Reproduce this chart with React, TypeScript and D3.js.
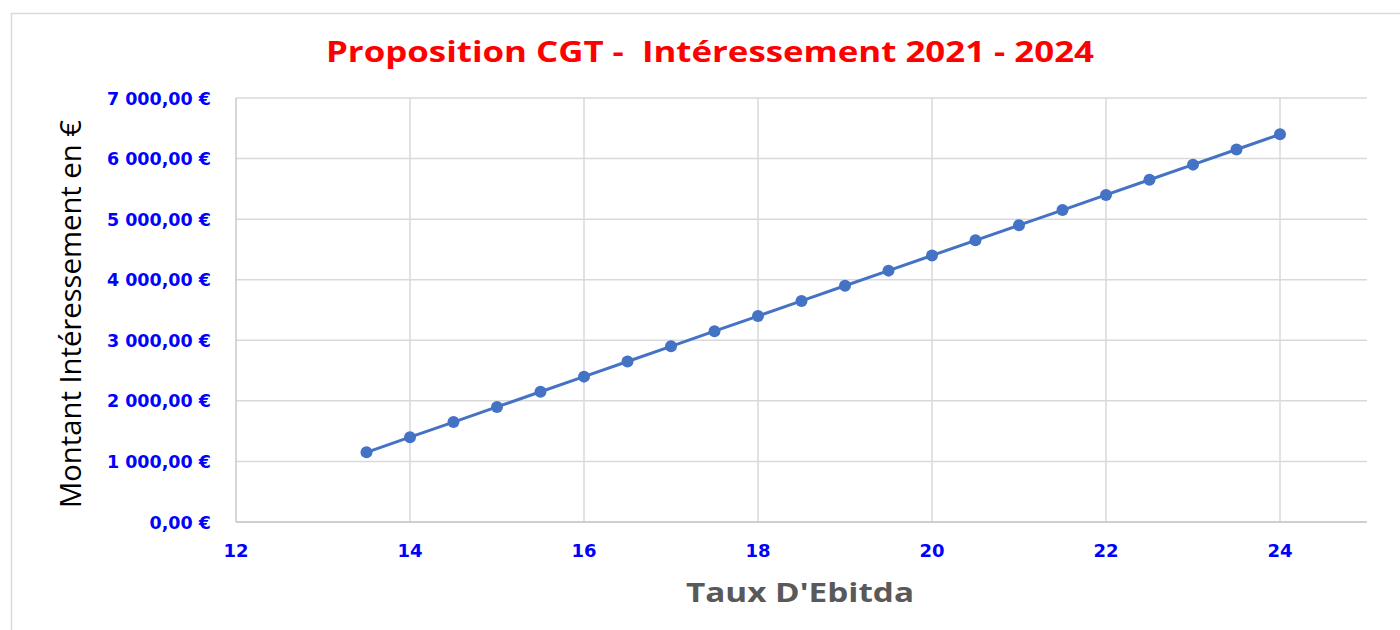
import React, { useEffect, useRef } from 'react';
import * as d3 from 'd3';

const ebitda = [13.5, 14, 14.5, 15, 15.5, 16, 16.5, 17, 17.5, 18, 18.5, 19, 19.5, 20, 20.5, 21, 21.5, 22, 22.5, 23, 23.5, 24];
const montants = [1150, 1400, 1650, 1900, 2150, 2400, 2650, 2900, 3150, 3400, 3650, 3900, 4150, 4400, 4650, 4900, 5150, 5400, 5650, 5900, 6150, 6400];
const xTicks = [12, 14, 16, 18, 20, 22, 24];
const yTicks = [0, 1000, 2000, 3000, 4000, 5000, 6000, 7000];

const title = 'Proposition CGT -  Intéressement 2021 - 2024';
const xTitle = "Taux D'Ebitda";
const yTitle = 'Montant Intéressement en €';

const W = 1400;
const H = 630;

// "7 000,00 €"
const fmtEuro = (v: number) => {
  const s = d3.format(',.2f')(v).replace(/,/g, ' ').replace('.', ',');
  return s + ' €';
};

const App = () => {
  const ref = useRef<SVGSVGElement>(null);

  useEffect(() => {
    const svg = d3.select(ref.current);
    svg.selectAll('*').remove();

    const pad = { left: 236, right: 1367, top: 98, bottom: 522 };
    const x = d3.scaleLinear().domain([12, 25]).range([pad.left, pad.right]);
    const y = d3.scaleLinear().domain([0, 7000]).range([pad.bottom, pad.top]);

    // outer frame
    svg.append('rect')
      .attr('x', 11.5).attr('y', 13.5)
      .attr('width', 1400).attr('height', 640)
      .attr('fill', 'white')
      .attr('stroke', '#d9d9d9')
      .attr('stroke-width', 1.5);

    const grid = svg.append('g');
    grid.selectAll('.hg')
      .data(yTicks.filter(d => d > 0))
      .join('line')
      .attr('x1', pad.left).attr('x2', pad.right)
      .attr('y1', d => y(d)).attr('y2', d => y(d))
      .attr('stroke', '#d9d9d9').attr('stroke-width', 1.5);
    grid.selectAll('.vg')
      .data(xTicks.filter(d => d > 12))
      .join('line')
      .attr('x1', d => x(d)).attr('x2', d => x(d))
      .attr('y1', pad.top).attr('y2', pad.bottom)
      .attr('stroke', '#d9d9d9').attr('stroke-width', 1.5);

    // axes lines
    svg.append('line')
      .attr('x1', pad.left).attr('x2', pad.left)
      .attr('y1', pad.top).attr('y2', pad.bottom)
      .attr('stroke', '#c8c8c8').attr('stroke-width', 1.5);
    svg.append('line')
      .attr('x1', pad.left).attr('x2', pad.right)
      .attr('y1', pad.bottom).attr('y2', pad.bottom)
      .attr('stroke', '#bfbfbf').attr('stroke-width', 1.5);

    // y tick labels
    svg.append('g')
      .selectAll('text')
      .data(yTicks)
      .join('text')
      .attr('x', 211)
      .attr('y', d => y(d) + 6.5)
      .attr('text-anchor', 'end')
      .attr('font-family', 'DejaVu Sans')
      .attr('font-weight', 'bold')
      .attr('font-size', 17.5)
      .attr('fill', '#0000ff')
      .text(d => fmtEuro(d));

    // x tick labels
    svg.append('g')
      .selectAll('text')
      .data(xTicks)
      .join('text')
      .attr('x', d => x(d))
      .attr('y', 557)
      .attr('text-anchor', 'middle')
      .attr('font-family', 'DejaVu Sans')
      .attr('font-weight', 'bold')
      .attr('font-size', 18)
      .attr('fill', '#0000ff')
      .text(d => String(d));

    const pts = ebitda.map((e, i) => [e, montants[i]] as [number, number]);
    const line = d3.line<[number, number]>().x(d => x(d[0])).y(d => y(d[1]));
    svg.append('path')
      .datum(pts)
      .attr('d', line)
      .attr('fill', 'none')
      .attr('stroke', '#4472c4')
      .attr('stroke-width', 3);
    svg.append('g')
      .selectAll('circle')
      .data(pts)
      .join('circle')
      .attr('cx', d => x(d[0]))
      .attr('cy', d => y(d[1]))
      .attr('r', 6)
      .attr('fill', '#4472c4');

    // titles
    svg.append('text')
      .attr('x', 710).attr('y', 62)
      .attr('text-anchor', 'middle')
      .attr('font-family', 'Open Sans')
      .attr('font-weight', 'bold')
      .attr('font-size', 28)
      .attr('fill', '#ff0000')
      .attr('textLength', 768)
      .attr('lengthAdjust', 'spacingAndGlyphs')
      .style('white-space', 'pre')
      .text(title);

    svg.append('text')
      .attr('x', 800).attr('y', 602)
      .attr('text-anchor', 'middle')
      .attr('font-family', 'Open Sans')
      .attr('font-weight', 'bold')
      .attr('font-size', 27)
      .attr('fill', '#595959')
      .attr('textLength', 228)
      .attr('lengthAdjust', 'spacingAndGlyphs')
      .text(xTitle);

    svg.append('text')
      .attr('transform', `translate(81,314) rotate(-90)`)
      .attr('text-anchor', 'middle')
      .attr('font-family', 'Open Sans')
      .attr('font-size', 29)
      .attr('fill', '#000000')
      .attr('textLength', 388)
      .attr('lengthAdjust', 'spacingAndGlyphs')
      .text(yTitle);
  }, []);

  return (
    <div style={{ position: 'fixed', left: 0, top: 0, width: W, height: H, background: 'white' }}>
      <svg ref={ref} width={W} height={H} style={{ display: 'block' }} />
    </div>
  );
};

export default App;
